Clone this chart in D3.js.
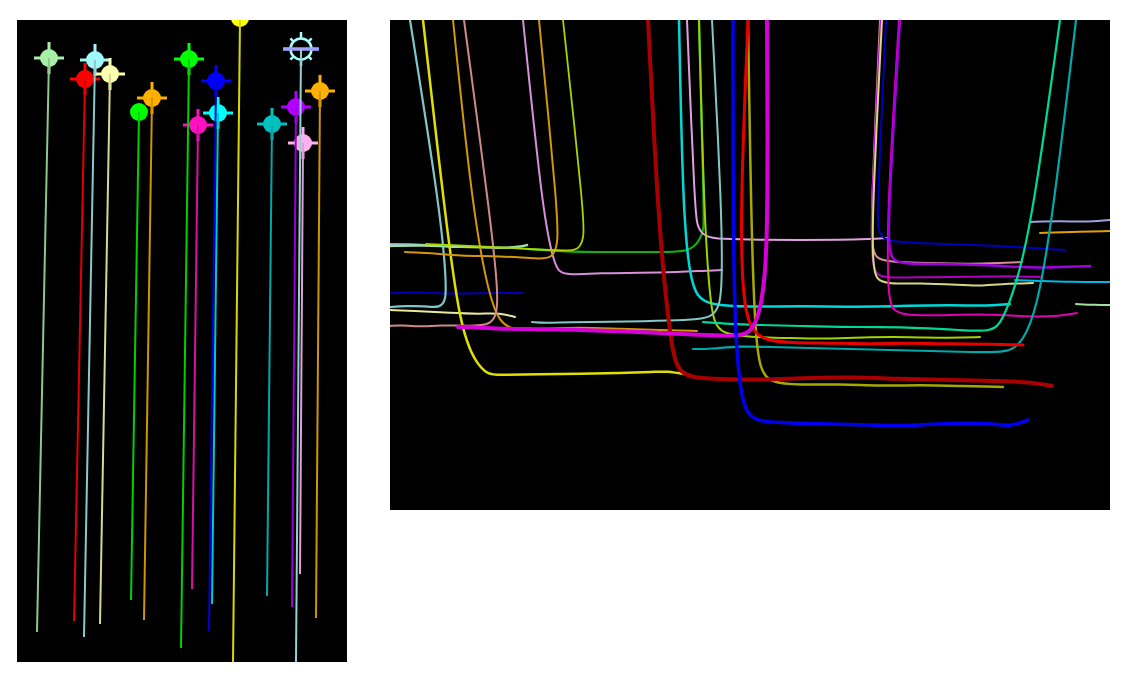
<!DOCTYPE html>
<html>
<head>
<meta charset="utf-8">
<script src="https://cdn.jsdelivr.net/npm/d3@7"></script>
<style>
  body { margin: 0; background: #fff; }
</style>
</head>
<body>
<div id="grafico"></div>
<script>
// painel da esquerda: marcadores no topo e a linha que desce de cada um
var marcadores = [
  {cor: "#a8f0a8", linha: "#8cc88c", topo: [32, 38], base: [20, 612], cruz: true},
  {cor: "#a0f8f8", linha: "#88caca", topo: [78, 40], base: [67, 617], cruz: true},
  {cor: "#ff0000", linha: "#e00000", topo: [68, 59], base: [57, 601], cruz: true},
  {cor: "#ffffb0", linha: "#d8d890", topo: [93, 54], base: [83, 604], cruz: true},
  {cor: "#00ff00", linha: "#00d000", topo: [122, 92], base: [114, 580], cruz: false},
  {cor: "#ffb000", linha: "#d09400", topo: [135, 78], base: [127, 600], cruz: true},
  {cor: "#00ff00", linha: "#00d000", topo: [172, 39], base: [164, 628], cruz: true},
  {cor: "#0000ff", linha: "#0000d8", topo: [199, 61], base: [192, 611], cruz: true},
  {cor: "#ff10c0", linha: "#d810a8", topo: [181, 105], base: [175, 569], cruz: true},
  {cor: "#00ffff", linha: "#00c8c8", topo: [201, 93], base: [195, 584], cruz: true},
  {cor: "#ffff00", linha: "#d8d800", topo: [223, -2], base: [216, 642], cruz: false},
  {cor: "#00c0c0", linha: "#00a8a8", topo: [255, 104], base: [250, 576], cruz: true},
  {cor: "#b000ff", linha: "#9800d8", topo: [279, 87], base: [275, 587], cruz: true},
  {cor: "#ffb0f0", linha: "#e0a0d8", topo: [286, 123], base: [283, 554], cruz: true},
  {cor: "#ffb000", linha: "#d09400", topo: [303, 71], base: [299, 598], cruz: true}
];
// o marcador em forma de sol
var sol = {cor: "#a8ffff", barra: "#a0a0ff", linha: "#98d0d0", topo: [284, 29], base: [279, 642]};

// painel da direita: linhas soltas (sem trecho vertical)
var soltas = [
  {cor: "#9c9cf0", w: 2, pts: [[0,224],[20,224],[50,226]]},
  {cor: "#a0e0a0", w: 2.5, pts: [[0,226],[30,225],[70,227],[110,228],[130,227],[137,225]]},
  {cor: "#0000b0", w: 2, pts: [[0,273],[30,272],[60,274],[90,273],[110,273],[133,273]]},
  {cor: "#e8e8a0", w: 2, pts: [[0,290],[30,291],[60,293],[90,294],[110,293],[125,297]]},
  {cor: "#a0a0e0", w: 2, pts: [[640,202],[670,201],[700,202],[720,200]]},
  {cor: "#e0a000", w: 2, pts: [[650,213],[680,212],[720,211]]},
  {cor: "#00b8e8", w: 2, pts: [[625,260],[650,261],[680,262],[720,262]]},
  {cor: "#a0e0a0", w: 2, pts: [[686,284],[705,285],[720,285]]}
];

// trajetórias que descem do topo e viram na horizontal
var trajetorias = [
  {cor: "#10b010", w: 2.2, pts: [[309,0],[314,195],[314,208],[310,220],[300,232],[270,232],[230,232],[190,232],[170,231],[137,229]]},
  {cor: "#7fc6c6", w: 2.2, pts: [[20,0],[51,195],[56,260],[56,280],[50,288],[35,286],[15,286],[0,287]]},
  {cor: "#e0e000", w: 2.5, pts: [[33,0],[55,195],[70,307],[85,342],[98,355],[110,355],[150,354],[190,354],[230,353],[265,352],[275,351],[300,355]]},
  {cor: "#d4960a", w: 2, pts: [[63,0],[83,195],[100,280],[110,302],[122,310],[150,309],[190,307],[230,309],[270,310],[307,311]]},
  {cor: "#d08888", w: 2, pts: [[74,0],[100,195],[108,270],[107,295],[100,305],[80,306],[50,305],[30,307],[10,305],[0,306]]},
  {cor: "#d890d8", w: 2, pts: [[133,0],[153,195],[163,238],[168,252],[178,255],[210,253],[250,253],[290,252],[310,251],[332,250]]},
  {cor: "#d4960a", w: 2, pts: [[149,0],[168,195],[168,225],[162,238],[150,239],[110,236],[70,236],[40,233],[15,232]]},
  {cor: "#a8d400", w: 1.8, pts: [[173,0],[194,195],[194,218],[189,230],[175,231],[140,229],[100,227],[60,225],[36,224]]},
  {cor: "#e0a0e0", w: 2, pts: [[297,0],[305,195],[308,208],[315,217],[330,219],[370,220],[410,220],[450,220],[480,219],[497,218]]},
  {cor: "#00d8d8", w: 2.5, pts: [[289,0],[293,195],[300,257],[307,277],[320,285],[360,287],[410,286],[460,287],[510,286],[560,285],[600,286],[620,284]]},
  {cor: "#a0d400", w: 2, pts: [[309,0],[314,195],[320,280],[324,302],[332,314],[360,317],[400,318],[440,319],[480,317],[520,317],[560,318],[590,317]]},
  {cor: "#80c8c8", w: 2, pts: [[322,0],[332,195],[332,263],[330,285],[322,298],[300,300],[260,301],[220,302],[180,302],[155,303],[142,302]]},
  {cor: "#d09090", w: 2, pts: [[490,0],[481,195],[482,225],[485,238],[498,242],[540,243],[580,244],[610,243],[632,242]]},
  {cor: "#b000c0", w: 2, pts: [[491,0],[481,195],[482,242],[486,256],[500,258],[540,257],[580,257],[620,256],[650,257]]},
  {cor: "#d8d880", w: 2, pts: [[492,0],[482,195],[483,245],[486,260],[498,264],[530,263],[570,265],[590,266],[610,264],[643,263]]},
  {cor: "#0000b8", w: 2, pts: [[496,0],[487,195],[488,210],[494,220],[508,222],[550,224],[590,225],[630,227],[655,229],[675,230]]},
  {cor: "#e000b0", w: 2, pts: [[509,0],[497,195],[498,270],[501,290],[515,296],[560,295],[600,294],[640,297],[670,296],[687,293]]},
  {cor: "#a000e0", w: 2.5, pts: [[510,0],[498,195],[499,230],[503,241],[515,244],[560,244],[600,245],[640,248],[670,247],[700,246]]},
  {cor: "#00d898", w: 2.2, pts: [[670,0],[643,195],[627,263],[612,302],[602,312],[570,310],[530,308],[490,307],[450,307],[410,306],[370,305],[340,304],[313,302]]},
  {cor: "#00a8a8", w: 2.2, pts: [[686,0],[663,195],[647,290],[632,323],[618,333],[580,332],[540,331],[500,330],[460,329],[420,328],[380,327],[350,326],[320,329],[303,329]]},
  {cor: "#a8a800", w: 2.5, pts: [[358,0],[361,195],[365,313],[370,350],[380,363],[410,365],[450,364],[490,366],[530,365],[570,366],[613,367]]},
  {cor: "#a80000", w: 4, pts: [[258,0],[268,195],[276,280],[283,337],[290,352],[303,358],[330,359],[370,360],[410,358],[460,357],[510,359],[560,360],[610,361],[640,362],[662,366]]},
  {cor: "#e80000", w: 3, pts: [[358,0],[350,195],[353,280],[360,308],[373,320],[400,323],[440,323],[480,324],[520,323],[560,324],[600,324],[633,325]]},
  {cor: "#d800d8", w: 4, pts: [[377,0],[378,195],[375,263],[368,300],[358,315],[340,316],[310,315],[270,313],[230,311],[190,310],[150,309],[110,309],[80,307],[68,307]]},
  {cor: "#0000f0", w: 3.5, pts: [[343,0],[343,195],[345,313],[350,367],[355,390],[365,402],[400,403],[440,404],[480,405],[520,406],[560,403],[600,403],[620,407],[638,400]]}
];

var width = 1137,
    height = 681;

var svg = d3.select("#grafico").append("svg")
    .attr("width", width)
    .attr("height", height);

// escalas dos dois painéis
var xE = d3.scaleLinear().domain([0, 330]).range([17, 347]),
    yE = d3.scaleLinear().domain([0, 642]).range([20, 662]),
    xD = d3.scaleLinear().domain([0, 720]).range([390, 1110]),
    yD = d3.scaleLinear().domain([0, 490]).range([20, 510]);

var defs = svg.append("defs");
defs.append("clipPath").attr("id", "clipE").append("rect")
    .attr("x", xE(0)).attr("y", yE(0))
    .attr("width", xE(330) - xE(0)).attr("height", yE(642) - yE(0));
defs.append("clipPath").attr("id", "clipD").append("rect")
    .attr("x", xD(0)).attr("y", yD(0))
    .attr("width", xD(720) - xD(0)).attr("height", yD(490) - yD(0));

// ---- painel esquerdo ----
svg.append("rect")
    .attr("x", xE(0)).attr("y", yE(0))
    .attr("width", xE(330) - xE(0)).attr("height", yE(642) - yE(0))
    .attr("fill", "black");

var esq = svg.append("g").attr("clip-path", "url(#clipE)");

var gm = esq.selectAll("g.marcador")
    .data(marcadores)
  .enter().append("g")
    .attr("class", "marcador")
    .attr("transform", function(d) { return "translate(" + xE(d.topo[0]) + "," + yE(d.topo[1]) + ")"; });

gm.append("circle")
    .attr("r", 9)
    .attr("fill", function(d) { return d.cor; });

gm.filter(function(d) { return d.cruz; }).append("line")
    .attr("x1", -15).attr("x2", 15)
    .attr("stroke", function(d) { return d.cor; })
    .attr("stroke-width", 3);

gm.filter(function(d) { return d.cruz; }).append("line")
    .attr("y1", -16).attr("y2", 16)
    .attr("stroke", function(d) { return d.cor; })
    .attr("stroke-width", 3);

// o sol
var gs = esq.append("g")
    .attr("transform", "translate(" + xE(sol.topo[0]) + "," + yE(sol.topo[1]) + ")");
gs.append("circle")
    .attr("r", 10.5)
    .attr("fill", "none")
    .attr("stroke", sol.cor)
    .attr("stroke-width", 2.5);
gs.selectAll("line.raio")
    .data(d3.range(8))
  .enter().append("line")
    .attr("class", "raio")
    .attr("x1", function(i) { return 10.5 * Math.cos(i * Math.PI / 4); })
    .attr("y1", function(i) { return 10.5 * Math.sin(i * Math.PI / 4); })
    .attr("x2", function(i) { return (i % 2 ? 15 : 17) * Math.cos(i * Math.PI / 4); })
    .attr("y2", function(i) { return (i % 2 ? 15 : 17) * Math.sin(i * Math.PI / 4); })
    .attr("stroke", sol.cor)
    .attr("stroke-width", 2.5);
gs.append("line")
    .attr("x1", -18).attr("x2", 18)
    .attr("stroke", sol.barra)
    .attr("stroke-width", 3.5);

esq.selectAll("line.queda")
    .data(marcadores.concat([sol]))
  .enter().append("line")
    .attr("class", "queda")
    .attr("x1", function(d) { return xE(d.topo[0]); })
    .attr("y1", function(d) { return yE(d.topo[1]); })
    .attr("x2", function(d) { return xE(d.base[0]); })
    .attr("y2", function(d) { return yE(d.base[1]); })
    .attr("stroke", function(d) { return d.linha; })
    .attr("stroke-width", 2);

// ---- painel direito ----
svg.append("rect")
    .attr("x", xD(0)).attr("y", yD(0))
    .attr("width", xD(720) - xD(0)).attr("height", yD(490) - yD(0))
    .attr("fill", "black");

var dir = svg.append("g").attr("clip-path", "url(#clipD)");

var linha = d3.line()
    .x(function(p) { return xD(p[0]); })
    .y(function(p) { return yD(p[1]); })
    .curve(d3.curveBasis);

dir.selectAll("path.solta")
    .data(soltas)
  .enter().append("path")
    .attr("class", "solta")
    .attr("d", function(d) { return linha(d.pts); })
    .attr("fill", "none")
    .attr("stroke", function(d) { return d.cor; })
    .attr("stroke-width", function(d) { return d.w; })
    .attr("stroke-linecap", "round");

dir.selectAll("path.trajetoria")
    .data(trajetorias)
  .enter().append("path")
    .attr("class", "trajetoria")
    .attr("d", function(d) { return linha(d.pts); })
    .attr("fill", "none")
    .attr("stroke", function(d) { return d.cor; })
    .attr("stroke-width", function(d) { return d.w; })
    .attr("stroke-linecap", "round")
    .attr("stroke-linejoin", "round");
</script>
</body>
</html>
